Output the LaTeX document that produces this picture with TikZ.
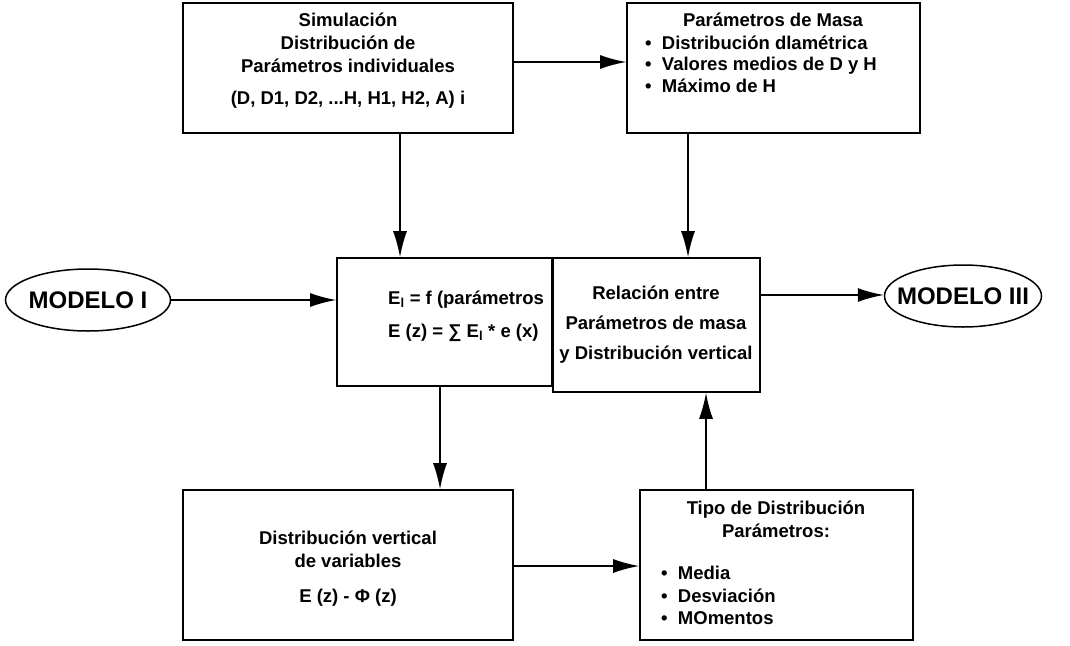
\documentclass[tikz,border=0pt]{standalone}
\usepackage{fontspec}
\setmainfont{Liberation Sans}
\usetikzlibrary{arrows.meta,shapes.geometric}
\begin{document}
\begin{tikzpicture}[x=1pt,y=-1pt,
  box/.style={draw,line width=1.6pt,rectangle,inner sep=0pt},
  oval/.style={draw,line width=1.5pt,ellipse,inner sep=0pt},
  arr/.style={line width=1.6pt,-{Latex[length=26pt,width=14pt]}},
  lbl/.style={font=\bfseries\fontsize{18.5}{22}\selectfont,inner sep=0pt,text height=13pt,text depth=4pt},
  big/.style={font=\bfseries\fontsize{24}{28}\selectfont,inner sep=0pt}]
\useasboundingbox (0,0) rectangle (1070,645);
% boxes
\node[box,minimum width=330pt,minimum height=130pt] (b1) at (348,68) {};
\node[box,minimum width=293pt,minimum height=130pt] (b2) at (773.5,68) {};
\node[box,minimum width=215pt,minimum height=128pt] (b3) at (444.5,322) {};
\node[box,minimum width=207pt,minimum height=134pt] (b4) at (656.5,325) {};
\node[box,minimum width=330pt,minimum height=150pt] (b5) at (348,565) {};
\node[box,minimum width=273pt,minimum height=150pt] (b6) at (776.5,565) {};
\node[oval,minimum width=165pt,minimum height=62pt] (m1) at (88,300) {};
\node[oval,minimum width=157pt,minimum height=62pt] (m3) at (963,296) {};
% texts
\node[big] (m1t) at (m1) {MODELO I};
\node[big] (m3t) at (m3) {MODELO III};
\node[lbl] (t11) at (348,22) {Simulación};
\node[lbl] (t12) at (348,45) {Distribución de};
\node[lbl] (t13) at (348,68) {Parámetros individuales};
\node[lbl] (t14) at (348,100) {(D, D1, D2, ...H, H1, H2, A) i};
\node[lbl] (t21) at (773,22) {Parámetros de Masa};
\node[lbl,anchor=west] (t22) at (645,45) {•\ \ Distribución dlamétrica};
\node[lbl,anchor=west] (t23) at (645,66) {•\ \ Valores medios de D y H};
\node[lbl,anchor=west] (t24) at (645,88) {•\ \ Máximo de H};
\node[lbl,anchor=west] (t31) at (388,300) {E\textsubscript{l} = f (parámetros};
\node[lbl,anchor=west] (t32) at (388,333) {E (z) = ∑ E\textsubscript{l} * e (x)};
\node[lbl] (t41) at (656,295) {Relación entre};
\node[lbl] (t42) at (656,325) {Parámetros de masa};
\node[lbl] (t43) at (656,355) {y Distribución vertical};
\node[lbl] (t51) at (348,540) {Distribución vertical};
\node[lbl] (t52) at (348,563) {de variables};
\node[lbl] (t53) at (348,598) {E (z) - Φ (z)};
\node[lbl] (t61) at (776,510) {Tipo de Distribución};
\node[lbl] (t62) at (776,533) {Parámetros:};
\node[lbl,anchor=west] (t63) at (661,575) {•\ \ Media};
\node[lbl,anchor=west] (t64) at (661,598) {•\ \ Desviación};
\node[lbl,anchor=west] (t65) at (661,620) {•\ \ MOmentos};
% connector positions
\coordinate (y12) at (0,62);
\coordinate (yM1) at (0,300);
\coordinate (yM3) at (0,295);
\coordinate (y56) at (0,566);
\coordinate (x13) at (400,0);
\coordinate (x24) at (688,0);
\coordinate (x35) at (440,0);
\coordinate (x64) at (706,0);
% connectors
\draw[arr] (b1.east |- y12) -- (b2.west |- y12);
\draw[arr] (b1.south -| x13) -- (b3.north -| x13);
\draw[arr] (b2.south -| x24) -- (b4.north -| x24);
\draw[arr] (m1.east |- yM1) -- (b3.west |- yM1);
\draw[arr] (b4.east |- yM3) -- (m3.west |- yM3);
\draw[arr] (b3.south -| x35) -- (b5.north -| x35);
\draw[arr] (b5.east |- y56) -- (b6.west |- y56);
\draw[arr] (b6.north -| x64) -- (b4.south -| x64);
\end{tikzpicture}
\end{document}
